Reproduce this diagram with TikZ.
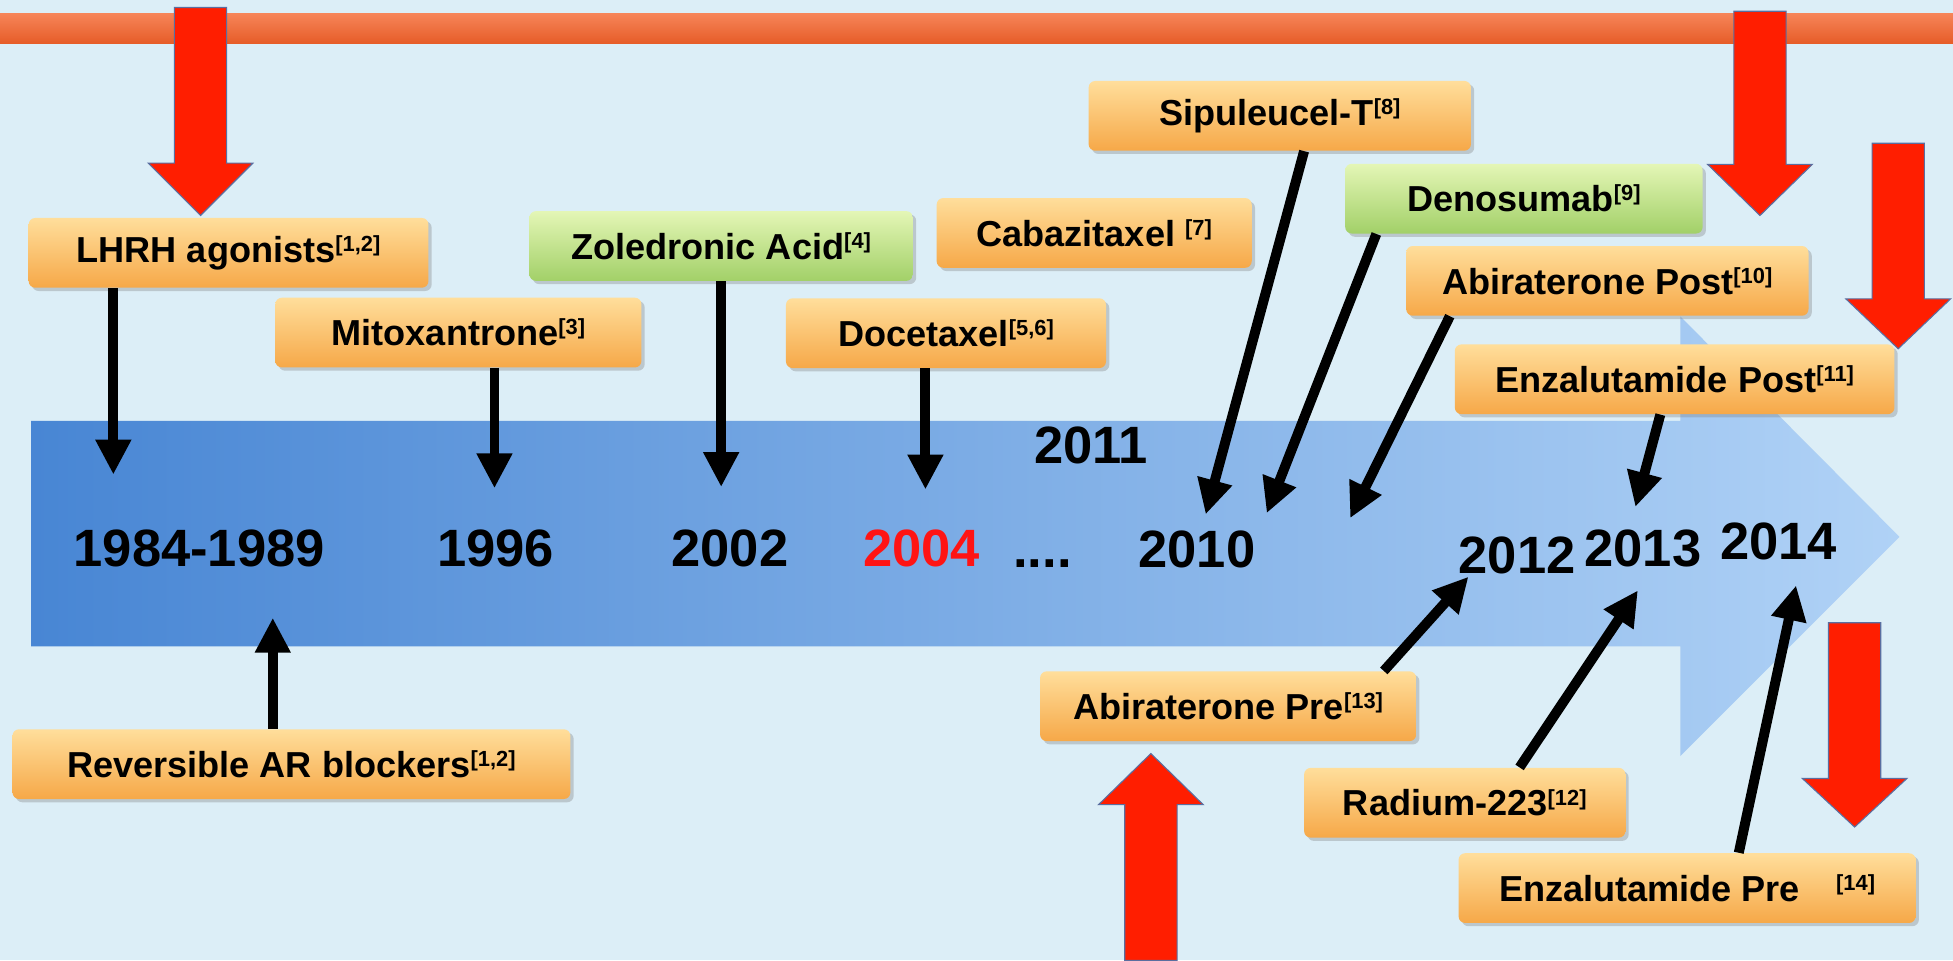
\documentclass[tikz,border=0pt]{standalone}
\usepackage{fontspec}
\setmainfont{Liberation Sans}
\usetikzlibrary{arrows.meta,shadows,calc}

\definecolor{bgblue}{RGB}{220,238,247}
\definecolor{barorange}{RGB}{241,103,52}
\definecolor{bartop}{RGB}{246,132,88}
\definecolor{barbot}{RGB}{230,92,40}
\definecolor{tlleft}{RGB}{72,134,212}
\definecolor{tlright}{RGB}{176,210,246}
\definecolor{boxtop}{RGB}{255,222,155}
\definecolor{boxbot}{RGB}{246,168,72}
\definecolor{greentop}{RGB}{228,246,182}
\definecolor{greenbot}{RGB}{162,208,104}
\definecolor{yearred}{RGB}{255,20,20}
\definecolor{blockred}{RGB}{255,30,0}
\definecolor{blockedge}{RGB}{90,110,160}

\newcommand{\tref}[1]{\raisebox{5pt}{\fontsize{10}{10}\selectfont[#1]}}
% centre x, tail y, head base y, tip y
\newcommand{\redarrow}[4]{%
  \draw[redblock] (#1-21,#2) -- (#1+21,#2) -- (#1+21,#3) -- (#1+42,#3)
    -- (#1,#4) -- (#1-42,#3) -- (#1-21,#3) -- cycle;}

\tikzset{
  obox/.style={rounded corners=3pt, top color=boxtop, bottom color=boxbot,
    drop shadow={shadow xshift=1.5pt, shadow yshift=-1.5pt, opacity=0.35},
    minimum height=1.12cm, inner sep=0pt,
    font=\fontsize{16.5}{18}\selectfont\bfseries},
  gbox/.style={obox, top color=greentop, bottom color=greenbot},
  year/.style={font=\fontsize{24}{26}\selectfont\bfseries, inner sep=0pt},
  tl/.style={-{Triangle[width=0.54cm,length=0.56cm]}, line width=0.16cm, black},
  redblock/.style={fill=blockred, draw=blockedge, line width=0.5pt},
}

\begin{document}
\begin{tikzpicture}[x=0.02cm, y=-0.02cm]
    \useasboundingbox (0,0) rectangle (1568,771);
    \fill[bgblue] (0,0) rectangle (1568,771);
    \shade[top color=bartop, middle color=barorange, bottom color=barbot] (0,11) rectangle (1568,35);

    % timeline arrow
    \shade[left color=tlleft, right color=tlright] (25,338) -- (1349,338) -- (1349,254)
        -- (1525,431) -- (1349,607) -- (1349,519) -- (25,519) -- cycle;

    \node[year] (y1984) at (160,440) {1984-1989};
    \node[year] (y1996) at (398,440) {1996};
    \node[year] (y2002) at (586,440) {2002};
    \node[year, text=yearred] (y2004) at (740,440) {2004};
    \node[year, anchor=base] (dots) at (837,456) {....};
    \node[year] (y2010) at (961,441) {2010};
    \node[year] (y2011) at (876,358) {2011};
    \node[year] (y2012) at (1218,446) {2012};
    \node[year] (y2013) at (1319,440) {2013};
    \node[year] (y2014) at (1428,435) {2014};

    \node[obox, minimum width=6.42cm] (lhrh) at (183.5,203) {LHRH agonists\tref{1,2}};
    \node[obox, minimum width=5.88cm] (mitox) at (368,267) {Mitoxantrone\tref{3}};
    \node[gbox, minimum width=6.16cm] (zol) at (579,197.5) {Zoledronic Acid\tref{4}};
    \node[obox, minimum width=5.06cm] (cab) at (878.5,187) {Cabazitaxel \tref{7}};
    \node[obox, minimum width=5.14cm] (doc) at (759.5,267.5) {Docetaxel\tref{5,6}};
    \node[obox, minimum width=6.14cm] (sip) at (1027.5,93) {Sipuleucel-T\tref{8}};
    \node[gbox, minimum width=5.74cm] (den) at (1223.5,159.5) {Denosumab\tref{9}};
    \node[obox, minimum width=6.46cm] (abipost) at (1290.5,225.5) {Abiraterone Post\tref{10}};
    \node[obox, minimum width=7.06cm] (enzpost) at (1344.5,304.5) {Enzalutamide Post\tref{11}};
    \node[obox, minimum width=8.96cm] (rev) at (234,613.5) {Reversible AR blockers\tref{1,2}};
    \node[obox, minimum width=6.04cm] (abipre) at (986,567) {Abiraterone Pre\tref{13}};
    \node[obox, minimum width=5.16cm] (rad) at (1176,644.5) {Radium-223\tref{12}};
    \node[obox, minimum width=7.34cm] (enzpre) at (1354.5,713) {Enzalutamide Pre\quad\tref{14}};

    % arrow tips
    \coordinate (t1) at (91,381);
    \coordinate (t2) at (397,392);
    \coordinate (t3) at (579,391);
    \coordinate (t4) at (743,393);
    \coordinate (t5) at (968,413);
    \coordinate (t6) at (1017,412);
    \coordinate (t7) at (1084,416);
    \coordinate (t8) at (1313,407);
    \coordinate (t9) at (219,496);
    \coordinate (t10) at (1179,463);
    \coordinate (t11) at (1315,474);
    \coordinate (t12) at (1442,470);

    \draw[tl] (lhrh.south -| t1) -- (t1);
    \draw[tl] (mitox.south -| t2) -- (t2);
    \draw[tl] (zol.south -| t3) -- (t3);
    \draw[tl] (doc.south -| t4) -- (t4);
    \draw[tl] ($(sip.south)+(19.5,0)$) -- (t5);
    \draw[tl] ($(den.south)+(-118.5,0)$) -- (t6);
    \draw[tl] ($(abipost.south)+(-126.5,0)$) -- (t7);
    \draw[tl] ($(enzpost.south)+(-11.5,0)$) -- (t8);
    \draw[tl] (rev.north -| t9) -- (t9);
    \draw[tl] ($(abipre.north)+(125,0)$) -- (t10);
    \draw[tl] ($(rad.north)+(44,0)$) -- (t11);
    \draw[tl] ($(enzpre.north)+(41.5,0)$) -- (t12);

    \redarrow{161}{6}{131}{173}
    \redarrow{1413}{9}{132}{173}
    \redarrow{1524}{115}{240}{280}
    \redarrow{1489}{500}{625}{664}
    \redarrow{924}{771}{646}{605}
\end{tikzpicture}
\end{document}
